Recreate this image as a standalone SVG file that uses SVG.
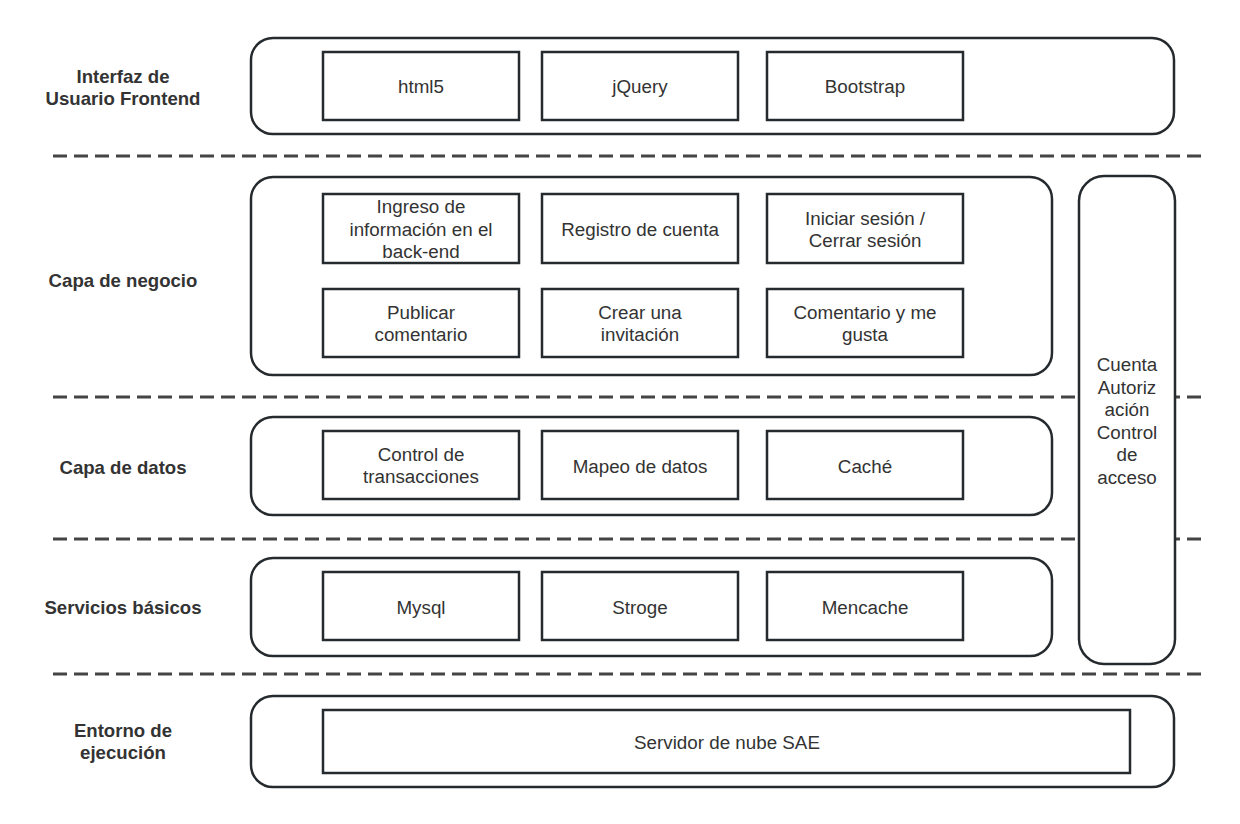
<svg xmlns="http://www.w3.org/2000/svg" width="1240" height="824" viewBox="0 0 1240 824">
<style>
.cont{fill:#fff;stroke:#252a2e;stroke-width:2.5}
.box{fill:#fff;stroke:#252a2e;stroke-width:2.5}
.dash{stroke:#444;stroke-width:3;stroke-dasharray:14 7;fill:none}
.t{font-family:"Liberation Sans",Arial,sans-serif;font-size:18.8px;fill:#333;text-anchor:middle;dominant-baseline:central}
.lb{font-family:"Liberation Sans",Arial,sans-serif;font-size:18.6px;font-weight:bold;fill:#333;text-anchor:middle;dominant-baseline:central}
</style>
<rect width="1240" height="824" fill="#fff"/>
<g id="connectors">
<line class="dash" x1="53" y1="156" x2="1202" y2="156"/>
<line class="dash" x1="53" y1="397" x2="1202" y2="397"/>
<line class="dash" x1="53" y1="539" x2="1202" y2="539"/>
<line class="dash" x1="53" y1="674" x2="1202" y2="674"/>
</g>
<g id="labels">
<text class="lb" x="123" y="76"><tspan x="123">Interfaz de</tspan><tspan x="123" dy="22">Usuario Frontend</tspan></text>
<text class="lb" x="123" y="280">Capa de negocio</text>
<text class="lb" x="123" y="467">Capa de datos</text>
<text class="lb" x="123" y="607">Servicios básicos</text>
<text class="lb" x="123" y="730"><tspan x="123">Entorno de</tspan><tspan x="123" dy="22">ejecución</tspan></text>
</g>
<g id="frontend">
<rect class="cont" x="251" y="38" width="923" height="96" rx="22"/>
<g id="html5"><rect class="box" x="323" y="52" width="196" height="68"/><text class="t" x="421" y="86">html5</text></g>
<g id="jquery"><rect class="box" x="542" y="52" width="196" height="68"/><text class="t" x="640" y="86">jQuery</text></g>
<g id="bootstrap"><rect class="box" x="767" y="52" width="196" height="68"/><text class="t" x="865" y="86">Bootstrap</text></g>
</g>
<g id="business">
<rect class="cont" x="251" y="177" width="801" height="198" rx="22"/>
<g id="ingreso"><rect class="box" x="323" y="194" width="196" height="69"/><text class="t" x="421" y="206"><tspan x="421">Ingreso de</tspan><tspan x="421" dy="22.5">información en el</tspan><tspan x="421" dy="22.5">back-end</tspan></text></g>
<g id="registro"><rect class="box" x="542" y="194" width="196" height="69"/><text class="t" x="640" y="229">Registro de cuenta</text></g>
<g id="sesion"><rect class="box" x="767" y="194" width="196" height="69"/><text class="t" x="865" y="218"><tspan x="865">Iniciar sesión /</tspan><tspan x="865" dy="22">Cerrar sesión</tspan></text></g>
<g id="publicar"><rect class="box" x="323" y="289" width="196" height="68"/><text class="t" x="421" y="312"><tspan x="421">Publicar</tspan><tspan x="421" dy="22">comentario</tspan></text></g>
<g id="invitacion"><rect class="box" x="542" y="289" width="196" height="68"/><text class="t" x="640" y="312"><tspan x="640">Crear una</tspan><tspan x="640" dy="22">invitación</tspan></text></g>
<g id="comentario"><rect class="box" x="767" y="289" width="196" height="68"/><text class="t" x="865" y="312"><tspan x="865">Comentario y me</tspan><tspan x="865" dy="22">gusta</tspan></text></g>
</g>
<g id="data">
<rect class="cont" x="251" y="417" width="801" height="98" rx="22"/>
<g id="transacciones"><rect class="box" x="323" y="431" width="196" height="68"/><text class="t" x="421" y="454"><tspan x="421">Control de</tspan><tspan x="421" dy="22">transacciones</tspan></text></g>
<g id="mapeo"><rect class="box" x="542" y="431" width="196" height="68"/><text class="t" x="640" y="466">Mapeo de datos</text></g>
<g id="cache"><rect class="box" x="767" y="431" width="196" height="68"/><text class="t" x="865" y="466">Caché</text></g>
</g>
<g id="services">
<rect class="cont" x="251" y="558" width="801" height="98" rx="22"/>
<g id="mysql"><rect class="box" x="323" y="572" width="196" height="68"/><text class="t" x="421" y="607">Mysql</text></g>
<g id="stroge"><rect class="box" x="542" y="572" width="196" height="68"/><text class="t" x="640" y="607">Stroge</text></g>
<g id="mencache"><rect class="box" x="767" y="572" width="196" height="68"/><text class="t" x="865" y="607">Mencache</text></g>
</g>
<g id="runtime">
<rect class="cont" x="251" y="696" width="923" height="91" rx="22"/>
<g id="sae"><rect class="box" x="323" y="710" width="807" height="63"/><text class="t" x="727" y="742">Servidor de nube SAE</text></g>
</g>
<g id="access">
<rect class="cont" x="1079" y="176" width="96" height="488" rx="25"/>
<text class="t" x="1127" y="364"><tspan x="1127">Cuenta</tspan><tspan x="1127" dy="22.5">Autoriz</tspan><tspan x="1127" dy="22.5">ación</tspan><tspan x="1127" dy="22.5">Control</tspan><tspan x="1127" dy="22.5">de</tspan><tspan x="1127" dy="22.5">acceso</tspan></text>
</g>
</svg>
